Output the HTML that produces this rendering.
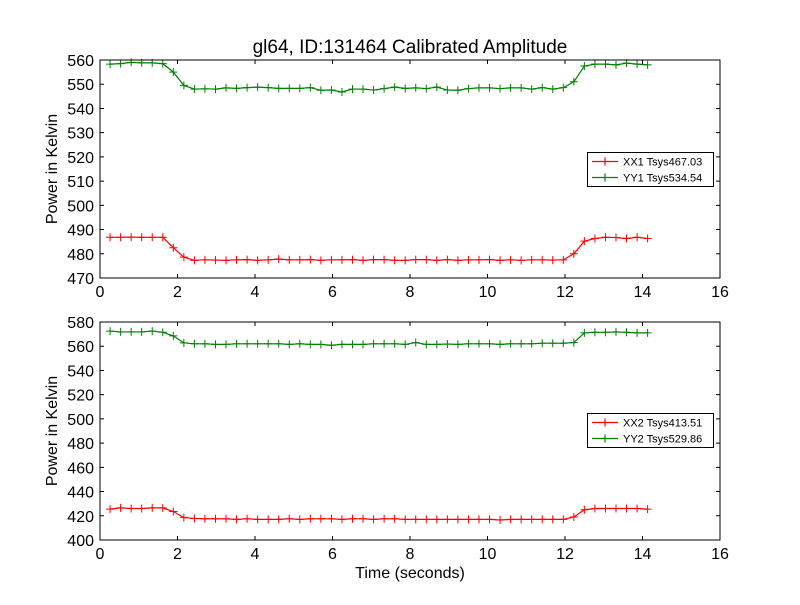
<!DOCTYPE html>
<html><head><meta charset="utf-8">
<style>
body{margin:0;background:#fff;}
svg text{font-family:"Liberation Sans","DejaVu Sans",sans-serif;}
</style></head>
<body>
<svg id="chart" width="800" height="600" xmlns="http://www.w3.org/2000/svg">
<rect width="800" height="600" fill="#fff"/>
<text x="410" y="53" font-size="19" text-anchor="middle">gl64, ID:131464 Calibrated Amplitude</text>
<g id="p1"></g>
<g id="p2"></g>
</svg>
<script>
const xx1 = [486.8,486.8,486.9,486.8,486.8,486.8,482.5,478.6,477.3,477.5,477.4,477.3,477.5,477.6,477.3,477.5,477.8,477.5,477.5,477.6,477.3,477.5,477.5,477.6,477.3,477.6,477.6,477.3,477.3,477.6,477.6,477.3,477.6,477.3,477.5,477.5,477.6,477.3,477.5,477.3,477.5,477.5,477.4,477.5,480.0,485.2,486.3,486.8,486.7,486.3,486.8,486.3];
const yy1 = [558.3,558.5,559.0,558.8,558.8,558.5,555.0,549.5,548.0,548.1,548.0,548.5,548.3,548.6,548.8,548.6,548.3,548.3,548.3,548.6,547.5,547.6,546.8,548.0,548.0,547.6,548.2,548.8,548.3,548.5,548.2,548.8,547.6,547.5,548.2,548.5,548.5,548.2,548.5,548.5,548.0,548.6,548.0,548.6,551.0,557.5,558.3,558.3,558.0,558.7,558.3,558.0];
const xx2 = [425.5,426.5,426.0,426.0,426.5,426.5,423.5,418.5,417.8,417.5,417.5,417.5,417.0,417.5,417.0,417.0,417.0,417.5,417.0,417.5,417.5,417.5,417.0,417.5,417.5,417.0,417.5,417.5,417.0,417.0,417.0,417.0,417.0,417.0,417.0,417.0,417.0,416.5,417.0,417.0,417.0,417.0,417.0,417.0,419.0,425.0,426.0,426.0,426.0,426.0,426.0,425.5];
const yy2 = [572.5,571.8,571.8,571.8,572.5,571.5,568.5,562.8,562.0,562.0,561.5,561.5,562.0,562.0,562.0,562.0,562.0,561.5,562.0,561.5,561.5,560.8,561.5,561.5,561.5,562.0,562.0,562.0,561.5,563.0,561.5,561.5,561.8,561.5,562.0,562.0,562.0,561.5,562.0,562.0,562.0,562.5,562.5,562.5,563.0,571.0,571.5,571.5,571.8,571.5,571.0,571.0];
const xStart = 0.26, xStep = 0.272;
const xTicks = [0,2,4,6,8,10,12,14,16];
const yTicks1 = [470,480,490,500,510,520,530,540,550,560];
const yTicks2 = [400,420,440,460,480,500,520,540,560,580];
const legend1 = ["XX1 Tsys467.03","YY1 Tsys534.54"];
const legend2 = ["XX2 Tsys413.51","YY2 Tsys529.86"];

const NS="http://www.w3.org/2000/svg";
function mk(parent,tag,attrs){const e=document.createElementNS(NS,tag);for(const k in attrs)e.setAttribute(k,attrs[k]);parent.appendChild(e);return e;}

function panel(g,top,ymin,ymax,yTicks,series,colors,labels,legendTop,showXLabel,prefix){
  const L=100,R=720,T=top,B=top+218;
  const sx=v=>L+(v-0)/(16-0)*(R-L);
  const sy=v=>B-(v-ymin)/(ymax-ymin)*(B-T);
  series.forEach((vals,si)=>{
    const pts=vals.map((v,i)=>[sx(xStart+i*xStep),sy(v)]);
    const pl=mk(g,'polyline',{points:pts.map(p=>p.join(',')).join(' '),fill:'none',stroke:colors[si],'stroke-width':1.2});
    
    
    pts.forEach(p=>{
      const m=mk(g,'path',{d:`M${p[0]-4},${p[1]}H${p[0]+4}M${p[0]},${p[1]-4}V${p[1]+4}`,stroke:colors[si],'stroke-width':1});
      
      
    });
  });
  const fr=mk(g,'rect',{x:L,y:T,width:R-L,height:B-T,fill:'none',stroke:'#000','stroke-width':1});
  
  
  xTicks.forEach(t=>{
    const x=sx(t);
    mk(g,'path',{d:`M${x},${B}v-4M${x},${T}v4`,stroke:'#000'});
    const tx=mk(g,'text',{x:x,y:B+19,'font-size':16,'text-anchor':'middle'});tx.textContent=t;
    
    
  });
  yTicks.forEach(t=>{
    const y=sy(t);
    mk(g,'path',{d:`M${L},${y}h4M${R},${y}h-4`,stroke:'#000'});
    const tx=mk(g,'text',{x:L-6,y:y+6,'font-size':16,'text-anchor':'end'});tx.textContent=t;
    
    
  });
  const yl=mk(g,'text',{x:57,y:(T+B)/2,'font-size':16,'text-anchor':'middle',transform:`rotate(-90 57 ${(T+B)/2})`});
  yl.textContent='Power in Kelvin';
  
  
  if(showXLabel){
    const xl=mk(g,'text',{x:410,y:578,'font-size':16,'text-anchor':'middle'});xl.textContent='Time (seconds)';
    
    
  }
  const lg=mk(g,'g',{});
  
  
  mk(lg,'rect',{x:587.5,y:legendTop,width:126,height:34,fill:'#fff',stroke:'#000','stroke-width':1});
  labels.forEach((lab,i)=>{
    const y=legendTop+9+i*16;
    mk(lg,'path',{d:`M592,${y}h26M605,${y-4}v8`,stroke:colors[i],'stroke-width':1.2});
    const t=mk(lg,'text',{x:623,y:y+4,'font-size':11});t.textContent=lab;
    
    
  });
}
panel(document.getElementById('p1'),60,470,560,yTicks1,[xx1,yy1],['#ff0000','#008000'],legend1,152.5,false,'top');
panel(document.getElementById('p2'),322,400,580,yTicks2,[xx2,yy2],['#ff0000','#008000'],legend2,413.5,true,'bottom');
</script>
</body></html>
